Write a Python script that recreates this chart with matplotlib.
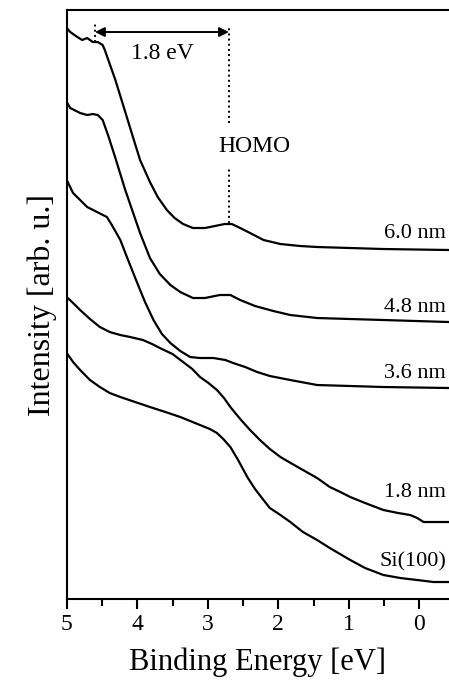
import matplotlib
matplotlib.use("Agg")
import matplotlib.pyplot as plt
from matplotlib.ticker import MultipleLocator

plt.rcParams['font.family'] = ['Liberation Serif', 'DejaVu Serif']

# Binding energy (eV) and intensity (arb. u.)
e_60 = [5.00, 4.95, 4.85, 4.78, 4.71, 4.63, 4.56, 4.49, 4.46, 4.31, 4.17, 4.07,
        3.96, 3.82, 3.71, 3.58, 3.47, 3.35, 3.21, 3.04, 2.90, 2.76, 2.66, 2.54,
        2.40, 2.21, 1.97, 1.69, 1.45, 0.51, -0.42]
i_60 = [571, 567, 562, 559, 561, 557, 557, 554, 549, 519, 487, 464,
        439, 417, 402, 389, 381, 375, 371, 371, 373, 375, 375, 371,
        366, 359, 355, 353, 352, 350, 349]

e_48 = [5.00, 4.95, 4.81, 4.71, 4.63, 4.56, 4.49, 4.41, 4.31, 4.17, 3.96, 3.82,
        3.68, 3.53, 3.39, 3.21, 3.04, 2.83, 2.68, 2.54, 2.33, 2.07, 1.83, 1.45,
        0.51, -0.42]
i_48 = [497, 491, 486, 484, 485, 484, 479, 463, 441, 409, 366, 341,
        325, 314, 307, 301, 301, 304, 304, 299, 293, 288, 284, 281,
        279, 277]

e_36 = [5.00, 4.91, 4.81, 4.71, 4.57, 4.43, 4.36, 4.24, 4.13, 4.00, 3.89, 3.77,
        3.65, 3.53, 3.39, 3.25, 3.11, 2.92, 2.75, 2.64, 2.47, 2.30, 2.12, 1.83,
        1.45, 0.51, -0.42]
i_36 = [419, 406, 399, 392, 387, 382, 374, 359, 339, 316, 297, 279,
        265, 256, 248, 242, 241, 241, 239, 236, 232, 227, 223, 219,
        214, 212, 211]

e_18 = [5.00, 4.91, 4.81, 4.67, 4.53, 4.39, 4.24, 4.10, 3.92, 3.79, 3.68, 3.50,
        3.35, 3.22, 3.11, 2.99, 2.87, 2.77, 2.68, 2.54, 2.40, 2.26, 2.12, 1.97,
        1.80, 1.65, 1.45, 1.27, 1.12, 0.98, 0.77, 0.51, 0.30, 0.13, 0.03, -0.06,
        -0.42]
i_18 = [302, 296, 289, 280, 272, 267, 264, 262, 259, 255, 251, 245,
        237, 230, 222, 216, 209, 201, 192, 180, 169, 159, 150, 142,
        135, 129, 121, 112, 107, 102, 96, 89, 86, 84, 81, 77,
        77]

e_si = [5.00, 4.91, 4.81, 4.67, 4.53, 4.39, 4.24, 4.03, 3.82, 3.60, 3.39, 3.25,
        3.11, 2.97, 2.87, 2.78, 2.68, 2.57, 2.44, 2.33, 2.21, 2.12, 1.97, 1.83,
        1.65, 1.45, 1.27, 0.98, 0.77, 0.51, 0.27, 0.03, -0.20, -0.42]
i_si = [246, 237, 229, 219, 212, 206, 202, 197, 192, 187, 182, 178,
        174, 170, 166, 160, 152, 139, 122, 110, 99, 91, 84, 77,
        67, 59, 51, 39, 31, 24, 21, 19, 17, 17]

curve_labels = ['6.0 nm', '4.8 nm', '3.6 nm', '1.8 nm', 'Si(100)']
label_heights = [366, 292, 226, 107, 37]

onset_e = 4.60
homo_e = 2.70

fig = plt.figure(figsize=(4.49, 6.86), dpi=100)
ax = fig.add_axes([0.1486, 0.1268, 0.8514, 0.8586])

for e, i in [(e_60, i_60), (e_48, i_48), (e_36, i_36), (e_18, i_18), (e_si, i_si)]:
    ax.plot(e, i, color='black', linewidth=1.6, solid_joinstyle='round')

for lab, h in zip(curve_labels, label_heights):
    ax.text(-0.38, h, lab, ha='right', va='center', fontsize=16)

# onset / HOMO markers
ax.plot([onset_e, onset_e], [557, 576], color='black', linestyle=':', linewidth=1.4)
ax.plot([homo_e, homo_e], [476, 572], color='black', linestyle=':', linewidth=1.4)
ax.plot([homo_e, homo_e], [376, 432], color='black', linestyle=':', linewidth=1.4)
ax.annotate('', xy=(homo_e, 567), xytext=(onset_e, 567),
            arrowprops=dict(arrowstyle='<|-|>', color='black', lw=1.4,
                            mutation_scale=14, shrinkA=0, shrinkB=0))
ax.text(3.65, 546, '1.8 eV', ha='center', va='center', fontsize=17)
ax.text(2.34, 453, 'HOMO', ha='center', va='center', fontsize=17)

ax.set_xlim(5, -0.42)
ax.set_ylim(0, 589)
ax.xaxis.set_major_locator(MultipleLocator(1))
ax.xaxis.set_minor_locator(MultipleLocator(0.5))
ax.set_yticks([])
ax.tick_params(axis='x', which='major', direction='out', length=7, width=1.5,
               labelsize=17, pad=4)
ax.tick_params(axis='x', which='minor', direction='out', length=5, width=1.5)
ax.spines['right'].set_visible(False)
for s in ['left', 'top', 'bottom']:
    ax.spines[s].set_linewidth(1.5)

ax.set_xlabel('Binding Energy [eV]', fontsize=22, labelpad=9)
ax.set_ylabel('Intensity [arb. u.]', fontsize=23, labelpad=7)

fig.savefig('out.png', dpi=100)
